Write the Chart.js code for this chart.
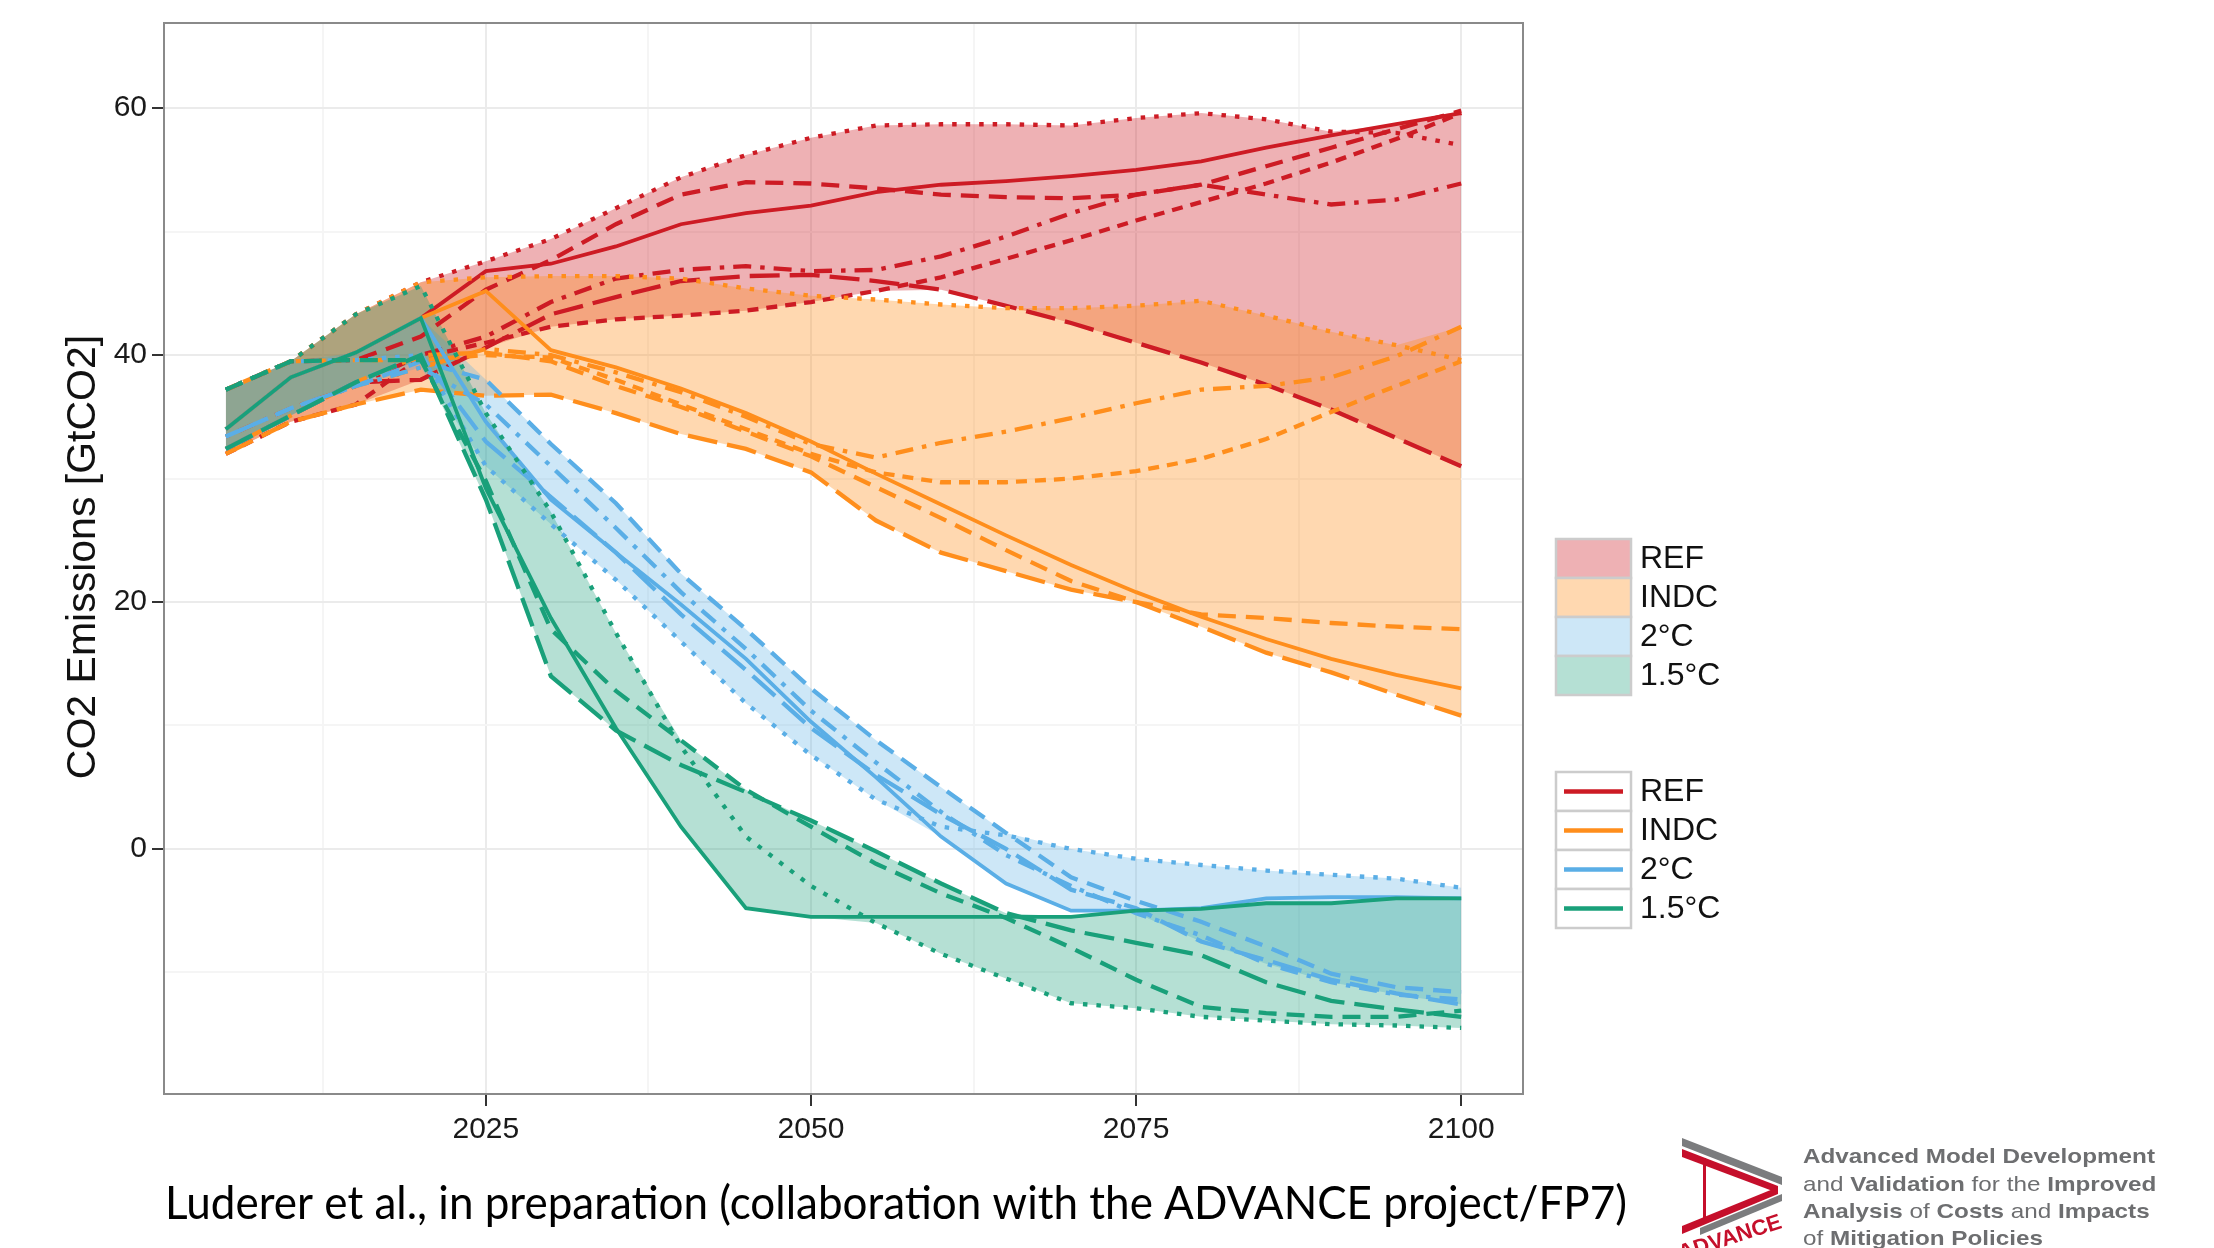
<!DOCTYPE html>
<html>
<head>
<meta charset="utf-8">
<title>CO2 emission pathways</title>
<script src="https://cdn.jsdelivr.net/npm/chart.js@4.4.1/dist/chart.umd.min.js"></script>
<style>
  html, body { margin: 0; padding: 0; background: #fff; }
  #wrap { position: relative; width: 2214px; height: 1248px; }
</style>
</head>
<body>
<div id="wrap"><canvas id="chart"></canvas></div>
<script>
// ---- data (GtCO2) ----
const years = [2005, 2010, 2015, 2020, 2025, 2030, 2035, 2040, 2045, 2050,
               2055, 2060, 2065, 2070, 2075, 2080, 2085, 2090, 2095, 2100];

const scenarios = ['REF', 'INDC', '2°C', '1.5°C'];

// REF
const refSolid     = [34.0, 38.2, 40.2, 43.0, 46.8, 47.4, 48.8, 50.6, 51.5, 52.1, 53.2, 53.8, 54.1, 54.5, 55.0, 55.7, 56.8, 57.8, 58.7, 59.6];
const refDashed    = [37.2, 39.5, 39.6, 41.5, 45.3, 47.7, 50.6, 53.0, 54.0, 53.9, 53.5, 53.0, 52.8, 52.7, 53.0, 53.8, 55.3, 56.8, 58.3, 59.8];
const refDotted    = [37.2, 39.5, 43.3, 45.9, 47.6, 49.4, 51.9, 54.4, 56.2, 57.6, 58.6, 58.7, 58.7, 58.6, 59.2, 59.6, 59.1, 58.1, 58.0, 57.0];
const refDotdash   = [33.4, 35.7, 37.5, 40.0, 41.5, 44.3, 46.2, 46.9, 47.2, 46.8, 46.9, 48.0, 49.6, 51.5, 53.0, 53.8, 53.0, 52.2, 52.6, 53.9];
const refShortdash = [32.0, 34.6, 36.0, 39.8, 41.0, 42.3, 42.9, 43.2, 43.6, 44.3, 45.2, 46.3, 47.8, 49.3, 50.9, 52.4, 53.9, 55.6, 57.5, 59.6];
const refLongdash  = [32.4, 35.1, 37.8, 38.0, 40.6, 43.3, 44.7, 46.0, 46.4, 46.5, 46.0, 45.3, 44.0, 42.6, 41.0, 39.4, 37.6, 35.6, 33.3, 31.0];

// INDC
const indcSolid     = [34.0, 38.2, 40.2, 43.0, 45.2, 40.4, 39.0, 37.3, 35.3, 33.0, 30.4, 27.9, 25.4, 23.0, 20.8, 18.8, 17.0, 15.4, 14.1, 13.0];
const indcDashed    = [32.4, 35.1, 37.8, 40.0, 40.2, 39.5, 37.5, 35.8, 33.8, 31.8, 29.3, 26.8, 24.2, 21.7, 20.0, 19.0, 18.7, 18.3, 18.0, 17.8];
const indcDotted    = [37.2, 39.5, 43.3, 45.9, 46.3, 46.4, 46.4, 46.2, 45.4, 44.8, 44.5, 44.1, 43.8, 43.8, 44.0, 44.4, 43.2, 41.9, 40.8, 39.6];
const indcDotdash   = [33.4, 35.7, 37.5, 39.0, 40.5, 40.0, 38.6, 37.0, 35.0, 32.8, 31.7, 32.9, 33.8, 34.9, 36.1, 37.2, 37.5, 38.2, 39.9, 42.3];
const indcShortdash = [37.2, 39.5, 39.6, 39.6, 40.0, 39.8, 38.0, 36.0, 34.0, 32.0, 30.5, 29.7, 29.7, 30.0, 30.6, 31.6, 33.2, 35.4, 37.5, 39.5];
const indcLongdash  = [32.0, 34.6, 36.0, 37.2, 36.7, 36.8, 35.3, 33.6, 32.4, 30.5, 26.6, 24.0, 22.5, 21.0, 20.0, 18.0, 15.9, 14.3, 12.5, 10.8];

// 2°C
const twoSolid    = [34.0, 38.2, 40.2, 43.0, 34.6, 28.3, 24.0, 19.8, 15.4, 10.3, 5.8, 1.0, -2.8, -5.0, -5.0, -4.8, -4.0, -3.9, -3.9, -4.0];
const twoDashed   = [33.4, 35.7, 37.5, 39.5, 38.0, 32.8, 28.0, 22.3, 17.8, 13.0, 8.8, 5.0, 1.3, -2.3, -4.2, -5.9, -7.9, -10.1, -11.2, -11.6];
const twoDotted   = [37.2, 39.5, 39.6, 40.0, 31.0, 26.3, 21.8, 16.8, 11.8, 7.6, 4.0, 1.8, 1.1, 0.0, -0.8, -1.3, -1.75, -2.1, -2.4, -3.15];
const twoDotdash  = [33.4, 35.7, 37.5, 39.0, 36.0, 31.0, 26.0, 20.8, 16.2, 11.2, 7.0, 3.0, -0.5, -3.0, -5.2, -7.0, -9.3, -10.8, -11.8, -12.2];
const twoLongdash = [32.4, 35.1, 37.8, 40.0, 33.0, 28.5, 24.0, 19.0, 14.5, 9.8, 6.0, 2.8, 0.0, -3.3, -4.8, -7.5, -9.0, -10.6, -11.7, -12.6];

// 1.5°C
const oneFiveSolid    = [34.0, 38.2, 40.2, 43.0, 29.2, 18.7, 9.8, 1.8, -4.8, -5.5, -5.5, -5.5, -5.5, -5.5, -5.0, -4.85, -4.4, -4.4, -4.0, -4.0];
const oneFiveDotted   = [37.2, 39.5, 43.3, 45.6, 35.3, 27.3, 17.5, 8.3, 1.0, -3.0, -6.0, -8.5, -10.5, -12.5, -12.9, -13.6, -13.9, -14.2, -14.3, -14.5];
const oneFiveDashed   = [37.2, 39.5, 39.6, 39.6, 29.8, 17.8, 12.8, 8.8, 4.8, 1.8, -1.2, -3.6, -5.6, -8.0, -10.6, -12.8, -13.3, -13.6, -13.6, -13.1];
const oneFiveLongdash = [32.4, 35.1, 37.8, 40.0, 28.3, 14.0, 9.6, 6.8, 4.6, 2.3, -0.2, -2.8, -5.2, -6.6, -7.6, -8.6, -10.8, -12.3, -13.0, -13.6];

// axes
const xRange = [2000.25, 2104.75];
const yRange = [-19.85, 66.9];
const xTickLabels = [2025, 2050, 2075, 2100];
const xMinorTicks = [2012.5, 2037.5, 2062.5, 2087.5];
const yTickLabels = [0, 20, 40, 60];
const yMinorTicks = [-10, 10, 30, 50];

const yTitle = 'CO2 Emissions [GtCO2]';
const caption = 'Luderer et al., in preparation (collaboration with the ADVANCE project/FP7)';
const logoLines = [
    [['Advanced Model Development', true]],
    [['and ', false], ['Validation', true], [' for the ', false], ['Improved', true]],
    [['Analysis', true], [' of ', false], ['Costs', true], [' and ', false], ['Impacts', true]],
    [['of ', false], ['Mitigation Policies', true]]
];

// ---- styles ----
const lineColors   = ['#cd1b24', '#ff8e1c', '#5aaee6', '#19a07a'];
const ribbonColors = ['rgba(205, 27, 36, 0.34)', 'rgba(255, 142, 28, 0.35)',
                      'rgba(90, 174, 230, 0.30)', 'rgba(25, 160, 122, 0.32)'];
const dashStyles = {
    solid: [],
    dashed: [18, 10],
    longdash: [30, 10],
    dotted: [4.5, 9],
    dotdash: [4.5, 9, 18, 9],
    shortdash: [11, 8]
};
const FONT = '"Liberation Sans", Arial, sans-serif';

const scenarioLines = [
    [['solid', refSolid], ['dashed', refDashed], ['dotted', refDotted],
     ['dotdash', refDotdash], ['shortdash', refShortdash], ['longdash', refLongdash]],
    [['solid', indcSolid], ['dashed', indcDashed], ['dotted', indcDotted],
     ['dotdash', indcDotdash], ['shortdash', indcShortdash], ['longdash', indcLongdash]],
    [['solid', twoSolid], ['dashed', twoDashed], ['dotted', twoDotted],
     ['dotdash', twoDotdash], ['longdash', twoLongdash]],
    [['solid', oneFiveSolid], ['dotted', oneFiveDotted], ['dashed', oneFiveDashed],
     ['longdash', oneFiveLongdash]]
];

const toPoints = values => values.map((v, i) => ({ x: years[i], y: v }));

// ---- datasets: ribbons (min/max over models) then model lines ----
const datasets = [];
scenarioLines.forEach((lines, s) => {
    const lower = years.map((_, i) => Math.min(...lines.map(l => l[1][i])));
    const upper = years.map((_, i) => Math.max(...lines.map(l => l[1][i])));
    const lowerIndex = datasets.length;
    datasets.push({
        data: toPoints(lower), borderColor: 'rgba(0,0,0,0)', borderWidth: 0,
        pointRadius: 0, fill: false, order: 20 - s
    });
    datasets.push({
        data: toPoints(upper), borderColor: 'rgba(0,0,0,0)', borderWidth: 0,
        pointRadius: 0, fill: lowerIndex, backgroundColor: ribbonColors[s], order: 20 - s
    });
});
scenarioLines.forEach((lines, s) => {
    lines.forEach(([style, values]) => {
        datasets.push({
            data: toPoints(values),
            borderColor: lineColors[s],
            borderWidth: style === 'solid' ? 3.8 : 4.3,
            borderDash: dashStyles[style],
            borderCapStyle: 'butt',
            pointRadius: 0,
            fill: false,
            tension: 0,
            order: 10 - s
        });
    });
});

// ---- extra drawing: panel border, y title, legends, caption, logo ----
function drawLogo(ctx) {
    ctx.save();
    ctx.beginPath();
    ctx.rect(1682, 1130, 138, 118);
    ctx.clip();
    const poly = (pts, color) => {
        ctx.beginPath();
        ctx.moveTo(pts[0][0], pts[0][1]);
        pts.slice(1).forEach(p => ctx.lineTo(p[0], p[1]));
        ctx.closePath();
        ctx.fillStyle = color;
        ctx.fill();
    };
    const grey = '#7b7c7e', red = '#c50f2b';
    poly([[1682, 1138], [1782, 1177], [1782, 1185], [1682, 1146]], grey);
    poly([[1682, 1149], [1778, 1186], [1778, 1193], [1682, 1157]], red);
    poly([[1778, 1187], [1682, 1226], [1682, 1234], [1778, 1194]], red);
    poly([[1782, 1194], [1700, 1228], [1700, 1235], [1782, 1201]], grey);
    ctx.fillStyle = red;
    ctx.fillRect(1703, 1158, 3, 62);
    ctx.translate(1732, 1244);
    ctx.rotate(-0.31);
    ctx.font = 'bold 22px ' + FONT;
    ctx.textAlign = 'center';
    ctx.textBaseline = 'alphabetic';
    ctx.fillText('ADVANCE', 0, 0);
    ctx.restore();

    ctx.save();
    ctx.fillStyle = '#6d6e70';
    ctx.textBaseline = 'alphabetic';
    ctx.font = 'bold 21px ' + FONT;
    const sx = 352 / ctx.measureText(logoLines[0][0][0]).width;
    const baselines = [1163, 1191, 1218, 1245];
    logoLines.forEach((parts, li) => {
        ctx.save();
        ctx.translate(1803, baselines[li]);
        ctx.scale(sx, 1);
        let x = 0;
        parts.forEach(([text, bold]) => {
            ctx.font = (bold ? 'bold ' : '') + '21px ' + FONT;
            ctx.fillText(text, x, 0);
            x += ctx.measureText(text).width;
        });
        ctx.restore();
    });
    ctx.restore();
}

const decor = {
    id: 'decor',
    afterDatasetsDraw(chart) {
        const { ctx, chartArea: a } = chart;
        ctx.save();
        ctx.strokeStyle = '#8a8a8a';
        ctx.lineWidth = 2;
        ctx.strokeRect(a.left, a.top, a.right - a.left, a.bottom - a.top);
        ctx.restore();
    },
    afterDraw(chart) {
        const ctx = chart.ctx;
        ctx.save();

        // y axis title
        ctx.save();
        ctx.translate(84, 557);
        ctx.rotate(-Math.PI / 2);
        ctx.font = '41px ' + FONT;
        ctx.fillStyle = '#111';
        ctx.textAlign = 'center';
        ctx.textBaseline = 'middle';
        ctx.fillText(yTitle, 0, 0);
        ctx.restore();

        // legends
        const keyX = 1556, keyW = 75, keyH = 39, textX = 1640;
        ctx.font = '32px ' + FONT;
        ctx.textBaseline = 'middle';
        ctx.textAlign = 'left';
        scenarios.forEach((name, i) => {
            const y0 = 539 + i * keyH;
            ctx.fillStyle = '#fff';
            ctx.fillRect(keyX, y0, keyW, keyH);
            ctx.fillStyle = ribbonColors[i];
            ctx.fillRect(keyX, y0, keyW, keyH);
            ctx.strokeStyle = '#cccccc';
            ctx.lineWidth = 2.5;
            ctx.strokeRect(keyX, y0, keyW, keyH);
            ctx.fillStyle = '#111';
            ctx.fillText(name, textX, y0 + keyH / 2 + 1);
        });
        scenarios.forEach((name, i) => {
            const y0 = 772 + i * keyH;
            ctx.fillStyle = '#fff';
            ctx.fillRect(keyX, y0, keyW, keyH);
            ctx.strokeStyle = '#cccccc';
            ctx.lineWidth = 2.5;
            ctx.strokeRect(keyX, y0, keyW, keyH);
            ctx.strokeStyle = lineColors[i];
            ctx.lineWidth = 4.5;
            ctx.beginPath();
            ctx.moveTo(keyX + 8, y0 + keyH / 2);
            ctx.lineTo(keyX + keyW - 8, y0 + keyH / 2);
            ctx.stroke();
            ctx.fillStyle = '#111';
            ctx.fillText(name, textX, y0 + keyH / 2 + 1);
        });

        // caption
        ctx.font = '46px Lato, "Open Sans", sans-serif';
        ctx.fillStyle = '#000';
        ctx.textBaseline = 'alphabetic';
        ctx.fillText(caption, 165, 1219, 1462);
        ctx.restore();

        drawLogo(ctx);
    }
};

// ---- chart ----
const tickFont = { family: FONT, size: 30 };
new Chart(document.getElementById('chart'), {
    type: 'line',
    data: { datasets },
    options: {
        responsive: true,
        maintainAspectRatio: false,
        devicePixelRatio: 1,
        animation: false,
        events: [],
        layout: { padding: { left: 0, top: 18, right: 691, bottom: 0 } },
        plugins: {
            legend: { display: false },
            tooltip: { enabled: false },
            filler: { drawTime: 'beforeDatasetsDraw' }
        },
        scales: {
            x: {
                type: 'linear',
                min: xRange[0],
                max: xRange[1],
                afterBuildTicks: scale => {
                    scale.ticks = [...xMinorTicks, ...xTickLabels].sort((a, b) => a - b).map(v => ({ value: v }));
                },
                afterFit: scale => { scale.height = 154; },
                border: { display: false },
                grid: {
                    color: c => (c.tick && xTickLabels.includes(c.tick.value)) ? '#ebebeb' : '#f5f5f5',
                    lineWidth: 2,
                    tickColor: c => (c.tick && xTickLabels.includes(c.tick.value)) ? '#333' : 'rgba(0,0,0,0)',
                    tickLength: 12,
                    tickWidth: 2
                },
                ticks: {
                    autoSkip: false,
                    maxRotation: 0,
                    padding: 6,
                    color: '#1a1a1a',
                    font: tickFont,
                    callback: v => xTickLabels.includes(v) ? String(v) : ''
                }
            },
            y: {
                type: 'linear',
                min: yRange[0],
                max: yRange[1],
                afterBuildTicks: scale => {
                    scale.ticks = [...yMinorTicks, ...yTickLabels].sort((a, b) => a - b).map(v => ({ value: v }));
                },
                afterFit: scale => { scale.width = 164; },
                border: { display: false },
                grid: {
                    color: c => (c.tick && yTickLabels.includes(c.tick.value)) ? '#ebebeb' : '#f5f5f5',
                    lineWidth: 2,
                    tickColor: c => (c.tick && yTickLabels.includes(c.tick.value)) ? '#333' : 'rgba(0,0,0,0)',
                    tickLength: 12,
                    tickWidth: 2
                },
                ticks: {
                    autoSkip: false,
                    padding: 5,
                    color: '#1a1a1a',
                    font: tickFont,
                    callback: v => yTickLabels.includes(v) ? String(v) : ''
                }
            }
        }
    },
    plugins: [decor]
});
</script>
</body>
</html>
